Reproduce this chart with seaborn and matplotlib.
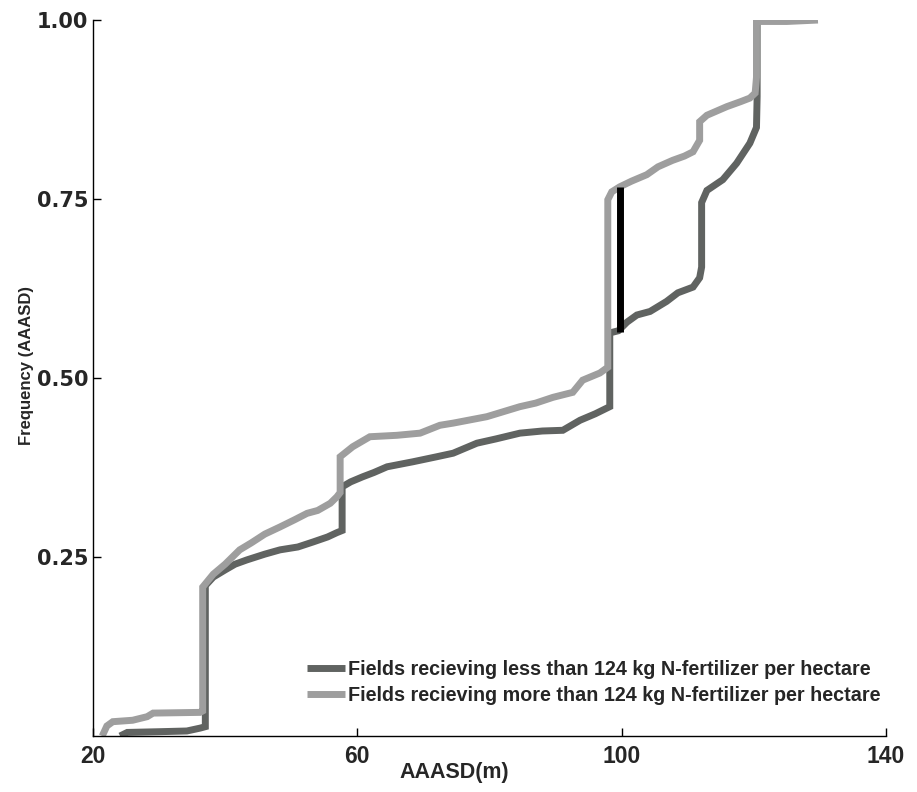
import matplotlib
matplotlib.use("Agg")
import matplotlib.pyplot as plt
import seaborn as sns
import pandas as pd

# ---- data ----
less_x = [24.1, 25.2, 30.0, 34.2, 36.2, 37.0, 37.0, 38.2, 40.0, 41.5, 43.3, 46.0, 48.3, 51.0,
          53.3, 55.5, 56.9, 57.7, 57.7, 59.0, 60.8, 62.5, 64.5, 68.4, 72.0, 74.5, 78.1, 81.0,
          84.6, 88.0, 91.1, 93.7, 96.0, 98.2, 98.2, 99.5, 100.8, 102.3, 104.3, 106.8, 108.5,
          110.8, 111.8, 112.1, 112.1, 112.9, 115.3, 117.4, 119.4, 120.4, 120.5, 120.5]
less_y = [0.000, 0.005, 0.006, 0.007, 0.011, 0.013, 0.210, 0.222, 0.232, 0.240, 0.246, 0.254,
          0.260, 0.264, 0.271, 0.278, 0.284, 0.287, 0.348, 0.355, 0.362, 0.368, 0.376, 0.383,
          0.390, 0.395, 0.409, 0.415, 0.423, 0.426, 0.427, 0.441, 0.450, 0.460, 0.563, 0.566,
          0.578, 0.588, 0.593, 0.607, 0.619, 0.627, 0.640, 0.655, 0.745, 0.762, 0.777, 0.800,
          0.828, 0.850, 0.893, 1.000]

more_x = [21.4, 22.1, 23.0, 26.0, 28.2, 29.1, 36.2, 36.6, 36.6, 38.2, 40.0, 42.2, 44.0, 46.0,
          48.3, 50.5, 52.4, 54.0, 55.9, 56.9, 57.4, 57.4, 59.3, 61.9, 66.0, 69.5, 72.5, 74.5,
          79.6, 84.6, 87.0, 89.6, 92.6, 94.1, 96.7, 97.9, 97.9, 98.5, 99.7, 101.5, 103.8, 105.5,
          107.7, 109.5, 110.8, 111.8, 111.8, 112.9, 115.9, 118.0, 119.4, 120.2, 120.4, 120.4,
          125.0, 129.7]
more_y = [0.000, 0.014, 0.020, 0.022, 0.027, 0.032, 0.033, 0.035, 0.208, 0.226, 0.240, 0.260,
          0.270, 0.282, 0.292, 0.302, 0.311, 0.315, 0.325, 0.334, 0.340, 0.390, 0.404, 0.418,
          0.420, 0.423, 0.434, 0.437, 0.446, 0.460, 0.465, 0.473, 0.480, 0.497, 0.507, 0.515,
          0.749, 0.760, 0.767, 0.775, 0.784, 0.795, 0.804, 0.810, 0.816, 0.832, 0.858, 0.867,
          0.879, 0.886, 0.891, 0.898, 0.920, 0.998, 0.998, 1.000]

ks_x = [99.7, 99.7]
ks_y = [0.564, 0.767]

series_labels = ["Fields recieving less than 124 kg N-fertilizer per hectare",
                 "Fields recieving more than 124 kg N-fertilizer per hectare"]
x_ticks = [20, 60, 100, 140]
y_ticks = [0.25, 0.50, 0.75, 1.00]
y_tick_labels = ["0.25", "0.50", "0.75", "1.00"]

# ---- build table ----
df = pd.concat([
    pd.DataFrame({"x": less_x, "y": less_y, "group": series_labels[0]}),
    pd.DataFrame({"x": more_x, "y": more_y, "group": series_labels[1]}),
], ignore_index=True)
ks = pd.DataFrame({"x": ks_x, "y": ks_y})

sns.set_theme(style="ticks")
plt.rcParams["font.family"] = ["Liberation Sans", "DejaVu Sans"]

fig = plt.figure(figsize=(9.17, 7.92), dpi=100)
ax = fig.add_axes([0.1014, 0.0707, 0.8648, 0.904])

palette = {series_labels[0]: "#606361", series_labels[1]: "#9e9e9e"}
sns.lineplot(data=df, x="x", y="y", hue="group", hue_order=series_labels, palette=palette,
             units="group", estimator=None, sort=False, linewidth=5, ax=ax,
             solid_capstyle="butt", solid_joinstyle="miter")
sns.lineplot(data=ks, x="x", y="y", color="black", linewidth=5, estimator=None, sort=False,
             ax=ax, legend=False, solid_capstyle="butt")

ax.set_xlim(20, 140)
ax.set_ylim(0, 1.0)
ax.set_xticks(x_ticks)
ax.set_xticklabels([str(t) for t in x_ticks], fontsize=16.5, fontweight="bold",
                   family="Liberation Sans")
ax.set_yticks(y_ticks)
ax.set_yticklabels(y_tick_labels, fontsize=15, fontweight="bold", family="DejaVu Sans")
ax.tick_params(axis="both", direction="in", length=6, width=1, color="black")
ax.tick_params(axis="x", pad=6.5)
ax.tick_params(axis="y", pad=3.5)
for s in ["top", "right"]:
    ax.spines[s].set_visible(False)
for s in ["left", "bottom"]:
    ax.spines[s].set_color("black")
    ax.spines[s].set_linewidth(1)

ax.set_xlabel("AAASD(m)", fontsize=15.5, fontweight="bold", family="Liberation Sans")
ax.set_ylabel("Frequency (AAASD)", fontsize=12, fontweight="bold", family="Liberation Sans")
ax.xaxis.set_label_coords(0.456, -0.037)
ax.yaxis.set_label_coords(-0.074, 0.518)

leg = ax.legend(loc="lower right", bbox_to_anchor=(0.993, 0.044), frameon=False,
                prop={"family": "Liberation Sans", "weight": "bold", "size": 14.2},
                handlelength=1.95, handletextpad=0.15, labelspacing=0.33,
                borderpad=0, borderaxespad=0)
for line in leg.get_lines():
    line.set_linewidth(5)
    line.set_solid_capstyle("butt")

fig.savefig("out.png", dpi=100)
